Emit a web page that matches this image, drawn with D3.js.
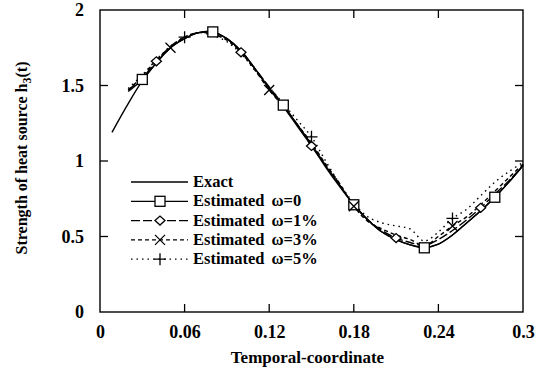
<!DOCTYPE html>
<html><head><meta charset="utf-8">
<script src="https://cdn.jsdelivr.net/npm/d3@7"></script>
<style>body{margin:0;background:#fff}svg{display:block}</style>
</head><body>
<script>
// ---- data ----
const exactT = [0.0085,0.02,0.03,0.04,0.05,0.06,0.07,0.08,0.09,0.10,0.11,0.12,0.13,0.14,0.15,0.16,0.17,0.18,0.19,0.20,0.21,0.22,0.23,0.24,0.25,0.26,0.27,0.28,0.29,0.30];
const exactH = [1.19,1.38,1.53,1.65,1.75,1.81,1.85,1.855,1.81,1.73,1.61,1.48,1.36,1.23,1.10,0.96,0.83,0.71,0.61,0.53,0.48,0.445,0.43,0.45,0.51,0.59,0.67,0.76,0.86,0.97];
const estT = [0.02,0.03,0.04,0.05,0.06,0.07,0.08,0.09,0.10,0.11,0.12,0.13,0.14,0.15,0.16,0.17,0.18,0.19,0.20,0.21,0.22,0.23,0.24,0.25,0.26,0.27,0.28,0.29,0.30];
const est0 = [1.46,1.54,1.65,1.75,1.81,1.85,1.855,1.81,1.73,1.61,1.48,1.37,1.24,1.11,0.97,0.84,0.71,0.61,0.53,0.48,0.445,0.425,0.45,0.51,0.59,0.67,0.76,0.86,0.97];
const est1 = [1.47,1.55,1.66,1.76,1.82,1.85,1.85,1.81,1.72,1.61,1.49,1.37,1.24,1.10,0.97,0.84,0.71,0.61,0.54,0.49,0.46,0.44,0.48,0.54,0.61,0.69,0.78,0.87,0.97];
const est3 = [1.47,1.56,1.67,1.75,1.82,1.85,1.84,1.80,1.72,1.60,1.47,1.36,1.24,1.12,0.98,0.85,0.70,0.60,0.55,0.51,0.48,0.44,0.50,0.57,0.63,0.71,0.80,0.89,0.98];
const est5 = [1.48,1.57,1.67,1.76,1.82,1.85,1.83,1.79,1.71,1.60,1.49,1.38,1.27,1.16,1.00,0.85,0.72,0.63,0.59,0.57,0.55,0.47,0.53,0.62,0.68,0.77,0.86,0.93,0.99];
const mark0 = [0.03,0.08,0.13,0.18,0.23,0.28];
const mark1 = [0.04,0.10,0.15,0.21,0.27];
const mark3 = [0.05,0.12,0.18,0.25];
const mark5 = [0.06,0.15,0.25];
const xTicks = [0,0.06,0.12,0.18,0.24,0.3];
const xTickLabels = ["0","0.06","0.12","0.18","0.24","0.3"];
const yTicks = [0,0.5,1,1.5,2];
const yTickLabels = ["0","0.5","1","1.5","2"];
const legendLabels = ["Exact","Estimated","Estimated","Estimated","Estimated"];
const legendOmega = ["","\u03c9=0","\u03c9=1%","\u03c9=3%","\u03c9=5%"];

// ---- drawing ----
const W=543,H=373;
const m={l:100,r:20,t:10,b:61};
const svg=d3.select("body").append("svg").attr("width",W).attr("height",H);
const x=d3.scaleLinear().domain([0,0.3]).range([m.l,W-m.r]);
const y=d3.scaleLinear().domain([0,2]).range([H-m.b,m.t]);
const font="'Liberation Serif','Times New Roman',serif";

// frame
svg.append("rect").attr("x",x(0)).attr("y",y(2)).attr("width",x(0.3)-x(0)).attr("height",y(0)-y(2))
  .attr("fill","none").attr("stroke","#000").attr("stroke-width",1.4);

// ticks (inward) on all sides
const tl=8;
const bottomAx=d3.axisBottom(x).tickValues(xTicks).tickSize(0).tickPadding(13).tickFormat((d,i)=>xTickLabels[i]);
const gB=svg.append("g").attr("transform",`translate(0,${y(0)})`).call(bottomAx);
gB.select(".domain").remove();
gB.selectAll("text").attr("font-family",font).attr("font-weight","bold").attr("font-size",18).attr("fill","#000");
const leftAx=d3.axisLeft(y).tickValues(yTicks).tickSize(0).tickPadding(16).tickFormat((d,i)=>yTickLabels[i]);
const gL=svg.append("g").attr("transform",`translate(${x(0)},0)`).call(leftAx);
gL.select(".domain").remove();
gL.selectAll("text").attr("font-family",font).attr("font-weight","bold").attr("font-size",18).attr("fill","#000");

const tk=svg.append("g").attr("stroke","#000").attr("stroke-width",1.3);
xTicks.slice(1,-1).forEach(t=>{
  tk.append("line").attr("x1",x(t)).attr("x2",x(t)).attr("y1",y(0)).attr("y2",y(0)-tl);
  tk.append("line").attr("x1",x(t)).attr("x2",x(t)).attr("y1",y(2)).attr("y2",y(2)+tl);
});
yTicks.slice(1,-1).forEach(v=>{
  tk.append("line").attr("x1",x(0)).attr("x2",x(0)+tl).attr("y1",y(v)).attr("y2",y(v));
  tk.append("line").attr("x1",x(0.3)).attr("x2",x(0.3)-tl).attr("y1",y(v)).attr("y2",y(v));
});

// axis titles
svg.append("text").attr("x",(x(0)+x(0.3))/2-4).attr("y",363).attr("text-anchor","middle")
  .attr("font-family",font).attr("font-weight","bold").attr("font-size",17).text("Temporal-coordinate");
const yt=svg.append("text").attr("transform",`translate(27,${(y(0)+y(2))/2-3}) rotate(-90)`).attr("text-anchor","middle")
  .attr("font-family",font).attr("font-weight","bold").attr("font-size",16);
yt.append("tspan").text("Strength of heat source h");
yt.append("tspan").attr("font-size",12).attr("dy",4).text("3");
yt.append("tspan").attr("dy",-4).text("(t)");

// lines
const line=d3.line().x(d=>x(d[0])).y(d=>y(d[1])).curve(d3.curveCatmullRom.alpha(0.5));
const series=[
  {t:exactT,v:exactH,dash:null,marks:[],sym:null},
  {t:estT,v:est0,dash:null,marks:mark0,sym:"square"},
  {t:estT,v:est1,dash:"9,3",marks:mark1,sym:"diamond"},
  {t:estT,v:est3,dash:"4,3",marks:mark3,sym:"cross"},
  {t:estT,v:est5,dash:"1.5,4",marks:mark5,sym:"plus"}
];
function drawSym(g,sym,cx,cy){
  if(sym==="square") g.append("rect").attr("x",cx-5).attr("y",cy-5).attr("width",10).attr("height",10).attr("fill","#fff").attr("stroke","#000").attr("stroke-width",1.3);
  if(sym==="diamond") g.append("path").attr("d",`M${cx-5},${cy}L${cx},${cy-4.5}L${cx+5},${cy}L${cx},${cy+4.5}Z`).attr("fill","#fff").attr("stroke","#000").attr("stroke-width",1.3);
  if(sym==="cross") g.append("path").attr("d",`M${cx-5},${cy-5}L${cx+5},${cy+5}M${cx-5},${cy+5}L${cx+5},${cy-5}`).attr("stroke","#000").attr("stroke-width",1.3);
  if(sym==="plus") g.append("path").attr("d",`M${cx-6},${cy}L${cx+6},${cy}M${cx},${cy-6}L${cx},${cy+6}`).attr("stroke","#000").attr("stroke-width",1.3);
}
const plot=svg.append("g");
series.forEach(s=>{
  const pts=s.t.map((t,i)=>[t,s.v[i]]);
  plot.append("path").attr("d",line(pts)).attr("fill","none").attr("stroke","#000")
    .attr("stroke-width",1.4).attr("stroke-dasharray",s.dash);
});
series.forEach(s=>{
  s.marks.forEach(mt=>{
    const i=s.t.findIndex(t=>Math.abs(t-mt)<1e-6);
    drawSym(plot,s.sym,x(mt),y(s.v[i]));
  });
});

// legend
const lg=svg.append("g");
series.forEach((s,i)=>{
  const ly=182+i*19.3;
  lg.append("line").attr("x1",131).attr("x2",188).attr("y1",ly).attr("y2",ly).attr("stroke","#000")
    .attr("stroke-width",1.3).attr("stroke-dasharray",s.dash);
  if(s.sym) drawSym(lg,s.sym,160,ly);
  const tx=lg.append("text").attr("x",193).attr("y",ly+5).attr("font-family",font).attr("font-weight","bold").attr("font-size",16.5);
  tx.append("tspan").text(legendLabels[i]);
  if(legendOmega[i]) tx.append("tspan").attr("dx",7).text(legendOmega[i]);
});
</script>
</body></html>
